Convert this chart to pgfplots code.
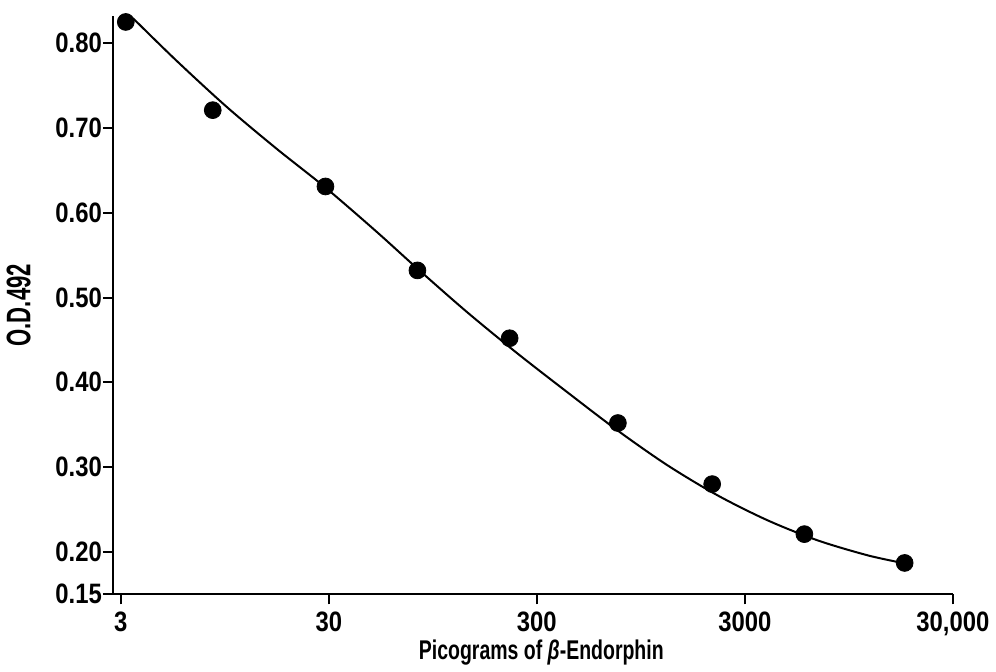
\documentclass[border=0pt]{standalone}
\usepackage{pgfplots}
\pgfplotsset{compat=1.18}
\usepackage{fontspec}
\setmainfont{Liberation Sans}[FakeStretch=0.85]
\newfontfamily\condfont{Liberation Sans}[FakeStretch=0.72, BoldFont={Liberation Sans Bold}, BoldItalicFont={Liberation Sans Bold Italic}]
\newfontfamily\ylabfont{Liberation Sans}[FakeStretch=0.65]

% dose-response points
\pgfplotstableread{
x y
3.17 0.825
8.3 0.721
28.9 0.631
80 0.532
222 0.452
736 0.352
2090 0.280
5800 0.221
17600 0.187
}\points

% fitted curve
\pgfplotstableread{
x y
3.43 0.8295
5.52 0.780
9.62 0.7255
16.75 0.6759
28.86 0.6298
50.8 0.5778
80.1 0.5340
138 0.4832
240 0.4348
418.6 0.3887
729 0.3437
1270 0.3024
2211 0.2669
3850 0.2374
6704 0.2137
11680 0.1960
17610 0.1865
}\curve

\begin{document}
\begin{tikzpicture}
\begin{axis}[
    name=ax,
    scale only axis,
    width=419pt, height=288.5pt,
    xmode=log,
    xmin=2.75, xmax=30000,
    ymin=0.15, ymax=0.832,
    axis lines=left,
    axis line style={line width=1pt, -},
    xtick={3,30,300,3000,30000},
    xticklabels={3,30,300,3000,{30,000}},
    xminorticks=false,
    ytick={0.15,0.2,0.3,0.4,0.5,0.6,0.7,0.8},
    yticklabels={0.15,0.20,0.30,0.40,0.50,0.60,0.70,0.80},
    tick align=outside,
    major tick length=5pt,
    tick style={line width=1pt, black},
    ticklabel style={font=\bfseries\fontsize{14}{14}\selectfont},
    yticklabel style={xshift=3pt},
    xlabel={Picograms of \textit{β}-Endorphin},
    ylabel={O.D.492},
    xlabel style={font=\condfont\bfseries\fontsize{13.5}{13.5}\selectfont,
        at={(axis description cs:0.51,0)}, anchor=center, yshift=-29pt},
    ylabel style={font=\ylabfont\bfseries\fontsize{17}{17}\selectfont,
        at={(axis description cs:0,0.5)}, anchor=center, yshift=47pt},
    clip=false,
]
\addplot[black, line width=1pt, smooth, no marks] table {\curve};
\addplot[only marks, mark=*, mark size=4.2pt, black] table {\points};
\end{axis}
% white margin above and below, as in the figure
\path ([yshift=8pt]ax.north west) ([yshift=-37.5pt]ax.south west);
\end{tikzpicture}
\end{document}
